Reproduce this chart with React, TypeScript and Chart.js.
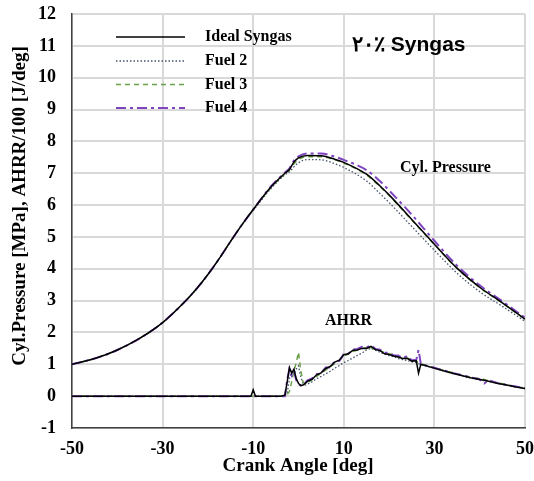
import React, { useEffect, useRef } from "react";
import { Chart, registerables } from "chart.js";

Chart.register(...registerables);

// Cylinder pressure [MPa]
const ANGLE_P = [-50, -45, -40, -35, -30, -25, -22.5, -20, -17.5, -15, -12.5, -10, -6, -3, -2, -1, 0, 2, 5, 8, 10, 15, 18, 20, 25, 30, 35, 40, 45, 50];
const P_IDEAL = [1.0, 1.18, 1.45, 1.82, 2.31, 2.98, 3.37, 3.82, 4.32, 4.86, 5.38, 5.86, 6.58, 7.0, 7.12, 7.35, 7.48, 7.56, 7.55, 7.44, 7.34, 6.97, 6.6, 6.32, 5.55, 4.77, 4.02, 3.42, 2.93, 2.42];
const P_FUEL2 = [1.0, 1.18, 1.45, 1.82, 2.31, 2.98, 3.37, 3.82, 4.32, 4.86, 5.37, 5.83, 6.53, 6.95, 7.05, 7.2, 7.33, 7.43, 7.42, 7.3, 7.18, 6.76, 6.36, 6.08, 5.33, 4.58, 3.86, 3.28, 2.82, 2.35];
const P_FUEL3 = [1.0, 1.18, 1.45, 1.82, 2.31, 2.98, 3.37, 3.82, 4.32, 4.86, 5.38, 5.86, 6.56, 6.98, 7.1, 7.3, 7.43, 7.52, 7.52, 7.42, 7.32, 6.95, 6.58, 6.3, 5.53, 4.76, 4.01, 3.41, 2.92, 2.41];
const P_FUEL4 = [1.0, 1.18, 1.45, 1.82, 2.31, 2.98, 3.37, 3.82, 4.32, 4.86, 5.38, 5.86, 6.6, 7.02, 7.15, 7.4, 7.53, 7.62, 7.62, 7.52, 7.42, 7.1, 6.75, 6.46, 5.7, 4.88, 4.1, 3.48, 2.98, 2.46];

// Apparent heat release rate / 100 [J/deg]
const ANGLE_H = [-50, -10.5, -10, -9.5, -4, -3, -2.5, -2, -1.5, -1, -0.5, 0, 0.5, 1, 1.5, 2, 3, 4, 5, 6, 7, 8, 9, 10, 11, 12, 13, 14, 15, 16, 17, 18, 19, 20, 21, 22, 23, 24, 25, 26, 26.5, 27, 28, 29, 30, 32, 34, 36, 38, 40, 41, 42, 44, 46, 48, 50];
const H_IDEAL = [0, 0, 0.2, 0, 0, 0.03, 0.45, 0.9, 0.72, 0.85, 0.55, 0.4, 0.33, 0.35, 0.4, 0.47, 0.53, 0.67, 0.73, 0.87, 0.93, 1.07, 1.13, 1.3, 1.33, 1.44, 1.45, 1.5, 1.5, 1.56, 1.46, 1.43, 1.33, 1.31, 1.26, 1.23, 1.18, 1.19, 1.1, 1.11, 0.72, 1.0, 0.96, 0.92, 0.88, 0.8, 0.72, 0.65, 0.58, 0.52, 0.5, 0.47, 0.4, 0.35, 0.29, 0.24];
const H_FUEL2 = [0, 0, 0, 0, 0, 0, 0.1, 0.55, 0.8, 0.7, 0.85, 0.95, 0.6, 0.4, 0.35, 0.38, 0.45, 0.55, 0.62, 0.7, 0.78, 0.88, 0.96, 1.05, 1.12, 1.2, 1.28, 1.35, 1.45, 1.5, 1.44, 1.38, 1.32, 1.27, 1.24, 1.18, 1.15, 1.12, 1.08, 1.05, 1.02, 0.98, 0.95, 0.91, 0.87, 0.79, 0.71, 0.64, 0.57, 0.51, 0.49, 0.46, 0.4, 0.34, 0.29, 0.24];
const H_FUEL3 = [0, 0, 0, 0, 0, 0, 0.05, 0.15, 0.45, 0.8, 1.05, 1.38, 0.8, 0.45, 0.38, 0.42, 0.52, 0.62, 0.72, 0.82, 0.92, 1.02, 1.12, 1.25, 1.32, 1.4, 1.45, 1.5, 1.53, 1.52, 1.47, 1.43, 1.37, 1.33, 1.3, 1.25, 1.22, 1.19, 1.15, 1.1, 1.05, 1.02, 0.97, 0.93, 0.89, 0.81, 0.74, 0.66, 0.6, 0.55, 0.52, 0.48, 0.42, 0.36, 0.3, 0.25];
const H_FUEL4 = [0, 0, 0, 0, 0, 0, 0.5, 0.85, 0.65, 0.78, 0.5, 0.38, 0.34, 0.38, 0.42, 0.5, 0.56, 0.69, 0.72, 0.9, 0.9, 1.1, 1.1, 1.33, 1.34, 1.46, 1.48, 1.55, 1.53, 1.6, 1.48, 1.46, 1.36, 1.36, 1.28, 1.28, 1.2, 1.26, 1.13, 1.14, 1.45, 1.02, 0.97, 0.93, 0.89, 0.81, 0.73, 0.66, 0.59, 0.53, 0.4, 0.5, 0.41, 0.35, 0.3, 0.25];

const SERIES = ["Ideal Syngas", "Fuel 2", "Fuel 3", "Fuel 4"];
const COLORS = ["#000000", "#44546a", "#6aa04a", "#7f45c0"];
const DASHES: number[][] = [[], [1.5, 2], [5, 4], [10, 4, 3, 4]];
const WIDTHS = [1.5, 1.3, 1.5, 2];
const ORDERS = [0, 3, 2, 1];

const X_TICKS = [-50, -30, -10, 10, 30, 50];

const SERIF = "'Liberation Serif', 'Times New Roman', serif";
const SANS = "'Liberation Sans', Arial, sans-serif";

function toXY(xs: number[], ys: number[]) {
  return xs.map((x, i) => ({ x, y: ys[i] }));
}

const overlay = {
  id: "overlay",
  afterDraw(chart: any) {
    const ctx = chart.ctx as CanvasRenderingContext2D;
    ctx.save();
    // legend
    const ly = [37, 61, 84.5, 108];
    for (let i = 0; i < 4; i++) {
      ctx.beginPath();
      ctx.setLineDash(DASHES[i]);
      ctx.strokeStyle = COLORS[i];
      ctx.lineWidth = WIDTHS[i];
      ctx.moveTo(116, ly[i]);
      ctx.lineTo(185, ly[i]);
      ctx.stroke();
      ctx.setLineDash([]);
      ctx.fillStyle = "#000";
      ctx.font = `bold 16px ${SERIF}`;
      ctx.textAlign = "left";
      ctx.textBaseline = "middle";
      ctx.fillText(SERIES[i], 205, ly[i]);
    }
    // annotations
    ctx.font = `bold 16px ${SERIF}`;
    ctx.textAlign = "left";
    ctx.textBaseline = "middle";
    ctx.fillText("Cyl. Pressure", 400, 168);
    ctx.fillText("AHRR", 325, 321);
    ctx.font = `bold 21px ${SANS}`;
    ctx.fillText("۲۰٪ Syngas", 352, 45);
    // axis titles
    ctx.font = `bold 19px ${SERIF}`;
    ctx.textAlign = "center";
    ctx.fillText("Crank Angle [deg]", 298, 466);
    ctx.translate(20, 206);
    ctx.rotate(-Math.PI / 2);
    ctx.fillText("Cyl.Pressure [MPa], AHRR/100 [J/deg]", 0, 0);
    ctx.restore();
  },
};

export default function App() {
  const ref = useRef<HTMLCanvasElement | null>(null);
  useEffect(() => {
    if (!ref.current) return;
    const pSets = [P_IDEAL, P_FUEL2, P_FUEL3, P_FUEL4];
    const hSets = [H_IDEAL, H_FUEL2, H_FUEL3, H_FUEL4];
    const datasets: any[] = [];
    for (let i = 0; i < 4; i++) {
      datasets.push({
        label: SERIES[i],
        data: toXY(ANGLE_P, pSets[i]),
        borderColor: COLORS[i],
        borderWidth: WIDTHS[i],
        borderDash: DASHES[i],
        pointRadius: 0,
        cubicInterpolationMode: "monotone",
        fill: false,
        order: ORDERS[i],
      });
      datasets.push({
        label: SERIES[i] + " AHRR",
        data: toXY(ANGLE_H, hSets[i]),
        borderColor: COLORS[i],
        borderWidth: WIDTHS[i],
        borderDash: DASHES[i],
        pointRadius: 0,
        tension: 0,
        fill: false,
        order: ORDERS[i],
      });
    }
    const chart = new Chart(ref.current, {
      type: "line",
      data: { datasets },
      options: {
        animation: false,
        responsive: false,
        maintainAspectRatio: false,
        layout: { padding: { left: 0, right: 9, top: 14, bottom: 0 } },
        plugins: { legend: { display: false }, tooltip: { enabled: false } },
        scales: {
          x: {
            type: "linear",
            min: -50,
            max: 50,
            afterFit: (s: any) => { s.height = 53; s.paddingLeft = 0; s.paddingRight = 0; },
            afterBuildTicks: (s: any) => { s.ticks = X_TICKS.map((v) => ({ value: v })); },
            grid: { color: "#d9d9d9", lineWidth: 2, drawTicks: false },
            border: { color: "#404040", width: 1.5 },
            ticks: { color: "#000", font: { family: SERIF, size: 18, weight: "bold" }, padding: 11, maxRotation: 0 },
          },
          y: {
            type: "linear",
            min: -1,
            max: 12,
            afterFit: (s: any) => { s.width = 72; s.paddingTop = 0; s.paddingBottom = 0; },
            grid: { color: "#d9d9d9", lineWidth: 2, drawTicks: false },
            border: { color: "#404040", width: 1.5 },
            ticks: { stepSize: 1, color: "#000", font: { family: SERIF, size: 18, weight: "bold" }, padding: 16 },
          },
        },
      },
      plugins: [overlay],
    } as any);
    return () => chart.destroy();
  }, []);
  return (
    <div style={{ position: "fixed", left: 0, top: 0, width: 534, height: 481, background: "#fff" }}>
      <canvas ref={ref} width={534} height={481} style={{ width: 534, height: 481 }} />
    </div>
  );
}
